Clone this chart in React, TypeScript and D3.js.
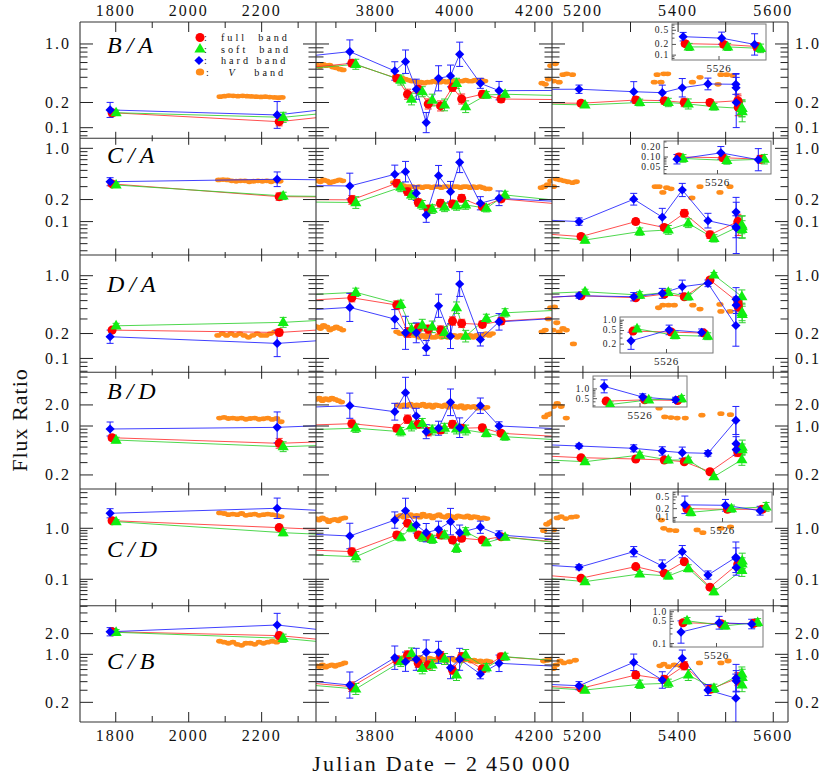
import * as d3 from 'd3';
import { useEffect, useRef } from 'react';

const W = 830;
const H = 775;

// X-ray epochs (JD - 2450000); the last three are the 5526 cluster shown in the insets
const epochs = [1790, 2248, 3740, 3853, 3880, 3907, 3932, 3963, 3993, 4016, 4068, 4115,
  5196, 5311, 5371, 5413, 5467, 5525.64, 5526.05, 5526.40];
const clusterIdx = [17, 18, 19];

// broken time axis
const colDomains = [[1702, 2349], [3650, 4243], [5135, 5631]];
const colMajor = [[1800, 2000, 2200], [3800, 4000, 4200], [5200, 5300, 5400, 5500, 5600]];
const colMinor = [[1900, 2100, 2300], [3700, 3900, 4100], []];
const colLabels = [[1800, 2000, 2200], [3800, 4000, 4200], [5200, 5400, 5600]];

const ratioNames = ['B/A', 'C/A', 'D/A', 'B/D', 'C/D', 'C/B'];
const rowDomains = [[0.0747, 1.83], [0.035, 1.37], [0.068, 1.78], [0.126, 5.85], [0.0303, 5.9], [0.1035, 5.1]];
const rowLabels = [[0.1, 0.2, 1.0], [0.1, 0.2, 1.0], [0.1, 0.2, 1.0], [0.2, 1.0, 2.0], [0.1, 1.0], [0.2, 1.0, 2.0]];

// B/A
const baFull = [0.151, 0.118, 0.588, 0.389, 0.251, 0.288, 0.192, 0.182, 0.304, 0.22, 0.251, 0.22, 0.196, 0.214, 0.21, 0.2, 0.2, 0.21, 0.2, 0.175];
const baFullErr = [0.04, 0.05, 0.04, 0.04, 0.06, 0.05, 0.06, 0.06, 0.05, 0.06, 0.04, 0.04, 0.03, 0.04, 0.04, 0.05, 0.03, 0.08, 0.08, 0.1];
const baSoft = [0.151, 0.133, 0.572, 0.371, 0.22, 0.269, 0.214, 0.187, 0.339, 0.178, 0.246, 0.251, 0.187, 0.2, 0.2, 0.192, 0.178, 0.17, 0.17, 0.155];
const baSoftErr = [0.03, 0.06, 0.06, 0.06, 0.07, 0.06, 0.07, 0.07, 0.06, 0.07, 0.04, 0.04, 0.03, 0.04, 0.05, 0.06, 0.04, 0.1, 0.1, 0.12];
const baHard = [0.163, 0.142, 0.81, 0.476, 0.614, 0.288, 0.115, 0.389, 0.415, 0.753, 0.339, 0.277, 0.288, 0.269, 0.262, 0.3, 0.333, 0.33, 0.3, 0.2];
const baHardErr = [0.09, 0.16, 0.14, 0.11, 0.14, 0.12, 0.12, 0.15, 0.13, 0.145, 0.06, 0.11, 0.05, 0.12, 0.09, 0.11, 0.07, 0.12, 0.17, 0.3];
const baV = [[2086, 0.235], [2098, 0.238], [2110, 0.242], [2122, 0.24], [2135, 0.238], [2148, 0.24], [2160, 0.238], [2172, 0.236], [2185, 0.235], [2198, 0.233], [2210, 0.235], [2222, 0.232], [2235, 0.23], [2246, 0.228], [2256, 0.23],
  [3652, 0.56], [3660, 0.54], [3668, 0.57], [3676, 0.55], [3684, 0.56], [3692, 0.53], [3700, 0.52], [3710, 0.5], [3718, 0.49],
  [3850, 0.41], [3858, 0.4], [3866, 0.39], [3874, 0.38], [3882, 0.37], [3890, 0.36], [3898, 0.36], [3906, 0.35], [3914, 0.35], [3922, 0.34], [3930, 0.35], [3938, 0.35], [3946, 0.36], [3954, 0.35], [3962, 0.35], [3970, 0.36], [3978, 0.35], [3986, 0.36], [3994, 0.36], [4002, 0.35], [4010, 0.36], [4018, 0.36], [4026, 0.37], [4034, 0.36], [4042, 0.36], [4050, 0.37], [4058, 0.36], [4066, 0.37], [4074, 0.36],
  [4218, 0.34], [4226, 0.33], [4234, 0.38], [4240, 0.55],
  [5138, 0.36], [5142, 0.58], [5150, 0.35], [5158, 0.43], [5166, 0.44], [5178, 0.43], [5350, 0.35], [5356, 0.43], [5364, 0.35], [5370, 0.44], [5378, 0.44], [5430, 0.35], [5446, 0.4], [5484, 0.33], [5490, 0.43], [5502, 0.43], [5515, 0.42]];

// C/A
const caFull = [0.327, 0.219, 0.198, 0.334, 0.256, 0.182, 0.148, 0.178, 0.174, 0.208, 0.16, 0.204, 0.0625, 0.1, 0.083, 0.13, 0.066, 0.1, 0.095, 0.085];
const caFullErr = [0.03, 0.05, 0.06, 0.05, 0.05, 0.05, 0.05, 0.05, 0.05, 0.05, 0.04, 0.04, 0.03, 0.04, 0.04, 0.05, 0.05, 0.1, 0.1, 0.12];
const caSoft = [0.316, 0.224, 0.182, 0.294, 0.231, 0.169, 0.148, 0.157, 0.164, 0.169, 0.152, 0.231, 0.056, 0.073, 0.077, 0.095, 0.059, 0.09, 0.078, 0.085];
const caSoftErr = [0.03, 0.05, 0.08, 0.06, 0.06, 0.06, 0.06, 0.06, 0.06, 0.06, 0.05, 0.05, 0.04, 0.05, 0.06, 0.06, 0.05, 0.12, 0.12, 0.15];
const caHard = [0.35, 0.378, 0.306, 0.442, 0.48, 0.244, 0.123, 0.423, 0.256, 0.644, 0.178, 0.208, 0.1, 0.202, 0.115, 0.27, 0.103, 0.085, 0.135, 0.082];
const caHardErr = [0.055, 0.1, 0.175, 0.125, 0.14, 0.1, 0.1, 0.14, 0.14, 0.14, 0.09, 0.1, 0.05, 0.08, 0.12, 0.09, 0.1, 0.15, 0.2, 0.35];
const caV = [[2082, 0.37], [2094, 0.375], [2106, 0.37], [2118, 0.36], [2130, 0.355], [2142, 0.36], [2154, 0.36], [2166, 0.35], [2178, 0.355], [2190, 0.36], [2202, 0.355], [2214, 0.36], [2226, 0.35], [2238, 0.36], [2250, 0.355],
  [3645, 0.37], [3653, 0.36], [3661, 0.35], [3669, 0.37], [3677, 0.36], [3685, 0.34], [3693, 0.35], [3701, 0.36], [3709, 0.37], [3717, 0.36],
  [3845, 0.34], [3853, 0.33], [3861, 0.32], [3869, 0.31], [3877, 0.3], [3885, 0.3], [3893, 0.3], [3901, 0.29], [3909, 0.3], [3917, 0.29], [3925, 0.3], [3933, 0.3], [3941, 0.29], [3949, 0.3], [3957, 0.3], [3965, 0.29], [3973, 0.3], [3981, 0.3], [3989, 0.29], [3997, 0.3], [4005, 0.3], [4013, 0.29], [4021, 0.3], [4029, 0.3], [4037, 0.29], [4045, 0.3], [4053, 0.29], [4061, 0.3], [4069, 0.29], [4077, 0.28], [4085, 0.28],
  [4216, 0.29], [4224, 0.3], [4232, 0.32], [4240, 0.36],
  [5138, 0.3], [5144, 0.38], [5152, 0.37], [5160, 0.36], [5168, 0.35], [5178, 0.34], [5186, 0.35], [5352, 0.3], [5360, 0.3], [5368, 0.25], [5376, 0.29], [5385, 0.28], [5429, 0.21], [5446, 0.3], [5488, 0.25], [5509, 0.3]];

// D/A
const daFull = [0.22, 0.206, 0.542, 0.442, 0.206, 0.235, 0.226, 0.22, 0.283, 0.265, 0.258, 0.283, 0.573, 0.542, 0.6, 0.557, 0.887, 0.48, 0.45, 0.42];
const daFullErr = [0.03, 0.04, 0.05, 0.05, 0.06, 0.05, 0.05, 0.05, 0.05, 0.05, 0.04, 0.04, 0.02, 0.03, 0.03, 0.03, 0.03, 0.06, 0.06, 0.06];
const daSoft = [0.248, 0.273, 0.63, 0.451, 0.226, 0.253, 0.241, 0.206, 0.41, 0.186, 0.305, 0.356, 0.64, 0.584, 0.63, 0.557, 1.02, 0.56, 0.36, 0.34];
const daSoftErr = [0.03, 0.06, 0.05, 0.05, 0.07, 0.07, 0.07, 0.07, 0.07, 0.07, 0.05, 0.05, 0.03, 0.04, 0.04, 0.04, 0.03, 0.08, 0.1, 0.1];
const daHard = [0.183, 0.152, 0.414, 0.299, 0.204, 0.204, 0.134, 0.433, 0.186, 0.794, 0.17, 0.277, 0.573, 0.557, 0.612, 0.736, 0.809, 0.25, 0.52, 0.44];
const daHardErr = [0.08, 0.16, 0.17, 0.115, 0.2, 0.12, 0.09, 0.14, 0.15, 0.15, 0.08, 0.1, 0.03, 0.05, 0.06, 0.08, 0.04, 0.25, 0.14, 0.1];
const daV = [[2080, 0.19], [2092, 0.2], [2104, 0.19], [2116, 0.2], [2128, 0.19], [2140, 0.2], [2152, 0.19], [2164, 0.18], [2176, 0.19], [2188, 0.2], [2200, 0.19], [2212, 0.19], [2224, 0.2], [2236, 0.21], [2250, 0.21],
  [3645, 0.25], [3653, 0.24], [3661, 0.23], [3669, 0.25], [3677, 0.24], [3685, 0.22], [3693, 0.23], [3701, 0.24], [3709, 0.23], [3717, 0.22],
  [3853, 0.21], [3861, 0.2], [3869, 0.2], [3877, 0.19], [3885, 0.2], [3893, 0.19], [3901, 0.19], [3909, 0.18], [3917, 0.19], [3925, 0.18], [3933, 0.19], [3941, 0.18], [3949, 0.18], [3957, 0.19], [3965, 0.18], [3973, 0.19], [3981, 0.18], [3989, 0.19], [3997, 0.19], [4005, 0.18], [4013, 0.19], [4021, 0.18], [4029, 0.19], [4037, 0.19], [4045, 0.18], [4053, 0.19], [4061, 0.18], [4069, 0.19], [4077, 0.2], [4085, 0.19], [4093, 0.2],
  [4218, 0.21], [4226, 0.22], [4234, 0.3], [4240, 0.41],
  [5137, 0.22], [5140, 0.42], [5145, 0.27], [5150, 0.21], [5158, 0.23], [5165, 0.22], [5180, 0.15], [5356, 0.18], [5359, 0.41], [5368, 0.44], [5380, 0.44], [5392, 0.44], [5431, 0.44], [5446, 0.395], [5488, 0.45], [5490, 0.37], [5509, 0.37]];

// B/D
const bdFull = [0.68, 0.566, 1.08, 0.93, 1.25, 1.06, 0.83, 0.877, 1.06, 0.93, 0.946, 0.787, 0.353, 0.338, 0.327, 0.309, 0.222, 0.42, 0.46, 0.44];
const bdFullErr = [0.04, 0.07, 0.05, 0.05, 0.06, 0.05, 0.06, 0.05, 0.05, 0.05, 0.04, 0.04, 0.02, 0.03, 0.03, 0.03, 0.03, 0.06, 0.06, 0.06];
const bdSoft = [0.63, 0.506, 0.93, 0.83, 1.0, 1.09, 0.877, 0.93, 0.906, 0.877, 0.787, 0.703, 0.309, 0.385, 0.327, 0.327, 0.189, 0.33, 0.46, 0.5];
const bdSoftErr = [0.04, 0.07, 0.06, 0.06, 0.07, 0.07, 0.07, 0.07, 0.07, 0.07, 0.05, 0.05, 0.03, 0.04, 0.04, 0.04, 0.03, 0.08, 0.08, 0.1];
const bdHard = [0.906, 0.957, 1.95, 1.6, 2.99, 1.39, 0.83, 0.93, 2.18, 0.946, 1.95, 1.0, 0.518, 0.48, 0.44, 0.416, 0.407, 1.2, 0.56, 0.46];
const bdHardErr = [0.1, 0.22, 0.18, 0.12, 0.22, 0.11, 0.1, 0.1, 0.19, 0.14, 0.11, 0.06, 0.03, 0.05, 0.06, 0.08, 0.04, 0.2, 0.1, 0.08];
const bdV = [[2085, 1.3], [2097, 1.33], [2109, 1.28], [2121, 1.3], [2133, 1.27], [2145, 1.3], [2157, 1.25], [2169, 1.28], [2181, 1.3], [2193, 1.25], [2205, 1.27], [2217, 1.3], [2229, 1.24], [2241, 1.28], [2253, 1.15],
  [3650, 2.4], [3658, 2.5], [3666, 2.3], [3674, 2.45], [3682, 2.35], [3690, 2.5], [3698, 2.4], [3706, 2.3], [3714, 2.2],
  [3855, 2.0], [3863, 1.9], [3871, 2.0], [3879, 1.95], [3887, 2.05], [3895, 1.9], [3903, 2.0], [3911, 1.95], [3919, 2.05], [3927, 1.9], [3935, 2.0], [3943, 1.85], [3951, 2.0], [3959, 1.95], [3967, 1.9], [3975, 2.0], [3983, 1.85], [3991, 1.95], [3999, 1.9], [4007, 1.85], [4015, 1.95], [4023, 1.8], [4031, 1.9], [4039, 1.85], [4047, 1.9], [4055, 1.8], [4063, 1.85], [4071, 1.8], [4079, 1.85],
  [4225, 1.35], [4233, 1.45], [4241, 1.5],
  [5138, 1.9], [5146, 2.1], [5154, 1.9], [5165, 1.3], [5360, 1.8], [5372, 1.35], [5385, 1.32], [5398, 1.3], [5415, 1.3], [5450, 1.43], [5490, 1.5], [5510, 1.45]];

// C/D
const cdFull = [1.41, 1.03, 0.348, 0.74, 1.25, 0.74, 0.667, 0.74, 0.59, 0.637, 0.59, 0.684, 0.105, 0.177, 0.131, 0.221, 0.07, 0.2, 0.19, 0.19];
const cdFullErr = [0.04, 0.05, 0.07, 0.06, 0.06, 0.06, 0.07, 0.06, 0.06, 0.06, 0.05, 0.05, 0.03, 0.04, 0.04, 0.05, 0.05, 0.1, 0.1, 0.1];
const cdSoft = [1.35, 0.82, 0.277, 0.667, 1.03, 0.667, 0.608, 0.74, 0.405, 0.857, 0.522, 0.667, 0.09, 0.127, 0.116, 0.164, 0.057, 0.15, 0.2, 0.23];
const cdSoftErr = [0.04, 0.06, 0.1, 0.07, 0.08, 0.08, 0.08, 0.08, 0.08, 0.08, 0.06, 0.05, 0.04, 0.05, 0.06, 0.07, 0.06, 0.12, 0.12, 0.15];
const cdHard = [1.97, 2.47, 0.706, 1.45, 2.21, 1.16, 0.82, 0.955, 1.35, 0.82, 1.05, 0.74, 0.172, 0.348, 0.182, 0.348, 0.121, 0.27, 0.26, 0.17];
const cdHardErr = [0.09, 0.2, 0.25, 0.16, 0.245, 0.16, 0.18, 0.16, 0.26, 0.15, 0.12, 0.08, 0.05, 0.1, 0.12, 0.12, 0.08, 0.3, 0.2, 0.15];
const cdV = [[2085, 2.0], [2097, 1.95], [2109, 1.85], [2121, 1.9], [2133, 1.85], [2145, 1.95], [2157, 1.8], [2169, 1.85], [2181, 1.9], [2193, 1.8], [2205, 1.85], [2217, 1.9], [2229, 1.85], [2241, 1.8], [2253, 1.7],
  [3650, 1.55], [3658, 1.45], [3666, 1.6], [3674, 1.5], [3682, 1.35], [3690, 1.45], [3698, 1.5], [3706, 1.4], [3714, 1.55], [3722, 1.6],
  [3855, 1.7], [3863, 1.8], [3871, 1.65], [3879, 1.75], [3887, 1.85], [3895, 1.7], [3903, 1.8], [3911, 1.65], [3919, 1.9], [3927, 1.7], [3935, 1.8], [3943, 1.6], [3951, 1.75], [3959, 1.85], [3967, 1.7], [3975, 1.65], [3983, 1.8], [3991, 1.7], [3999, 1.6], [4007, 1.75], [4015, 1.7], [4023, 1.65], [4031, 1.75], [4039, 1.6], [4047, 1.7], [4055, 1.65], [4063, 1.55], [4071, 1.6], [4079, 1.55],
  [4222, 0.9], [4230, 1.2], [4238, 1.3], [4244, 1.4],
  [5138, 0.93], [5146, 1.6], [5154, 1.7], [5164, 1.55], [5176, 1.65], [5186, 1.7], [5365, 1.45], [5370, 1.0], [5382, 0.92], [5395, 0.9], [5440, 0.93], [5452, 0.82], [5490, 1.0], [5510, 1.07]];

// C/B
const cbFull = [2.13, 1.87, 0.338, 0.826, 0.977, 0.74, 0.699, 0.955, 0.59, 0.923, 0.611, 0.923, 0.32, 0.5, 0.433, 0.682, 0.31, 0.45, 0.42, 0.43];
const cbFullErr = [0.04, 0.05, 0.07, 0.06, 0.06, 0.06, 0.06, 0.06, 0.06, 0.06, 0.05, 0.05, 0.03, 0.05, 0.05, 0.06, 0.05, 0.08, 0.08, 0.08];
const cbSoft = [2.09, 1.71, 0.313, 0.78, 1.03, 0.625, 0.699, 0.855, 0.5, 0.977, 0.638, 0.923, 0.302, 0.366, 0.379, 0.5, 0.32, 0.52, 0.36, 0.46];
const cbSoftErr = [0.04, 0.06, 0.08, 0.07, 0.08, 0.08, 0.08, 0.08, 0.08, 0.08, 0.06, 0.05, 0.04, 0.06, 0.06, 0.08, 0.06, 0.1, 0.1, 0.12];
const cbHard = [2.13, 2.67, 0.357, 0.893, 0.78, 0.846, 1.07, 1.07, 0.638, 0.846, 0.517, 0.74, 0.349, 0.765, 0.423, 0.875, 0.302, 0.23, 0.45, 0.41];
const cbHardErr = [0.06, 0.17, 0.19, 0.17, 0.14, 0.16, 0.18, 0.16, 0.16, 0.16, 0.07, 0.12, 0.06, 0.12, 0.12, 0.12, 0.08, 0.35, 0.2, 0.15];
const cbV = [[2085, 1.55], [2097, 1.5], [2109, 1.45], [2121, 1.5], [2133, 1.4], [2145, 1.35], [2157, 1.45], [2169, 1.45], [2181, 1.4], [2193, 1.5], [2205, 1.45], [2217, 1.5], [2229, 1.55], [2241, 1.5], [2253, 1.6],
  [3650, 0.68], [3658, 0.66], [3666, 0.7], [3674, 0.65], [3682, 0.68], [3690, 0.7], [3698, 0.67], [3706, 0.7], [3714, 0.72], [3722, 0.75],
  [3855, 0.8], [3863, 0.85], [3871, 0.9], [3879, 0.82], [3887, 0.88], [3895, 0.85], [3903, 0.8], [3911, 0.9], [3919, 0.85], [3927, 0.8], [3935, 0.88], [3943, 0.85], [3951, 0.82], [3959, 0.9], [3967, 0.85], [3975, 0.8], [3983, 0.85], [3991, 0.88], [3999, 0.82], [4007, 0.85], [4015, 0.8], [4023, 0.83], [4031, 0.85], [4039, 0.8], [4047, 0.82], [4055, 0.78], [4063, 0.8], [4071, 0.76], [4079, 0.8], [4087, 0.78],
  [4222, 0.8], [4232, 0.82], [4240, 0.85],
  [5138, 0.62], [5144, 0.7], [5152, 0.8], [5160, 0.75], [5172, 0.78], [5184, 0.82], [5362, 0.68], [5370, 0.72], [5380, 0.66], [5392, 0.7], [5405, 0.68], [5445, 0.75], [5490, 0.75], [5505, 0.8]];

const rows = [
  { full: baFull, fullErr: baFullErr, soft: baSoft, softErr: baSoftErr, hard: baHard, hardErr: baHardErr, vband: baV },
  { full: caFull, fullErr: caFullErr, soft: caSoft, softErr: caSoftErr, hard: caHard, hardErr: caHardErr, vband: caV },
  { full: daFull, fullErr: daFullErr, soft: daSoft, softErr: daSoftErr, hard: daHard, hardErr: daHardErr, vband: daV },
  { full: bdFull, fullErr: bdFullErr, soft: bdSoft, softErr: bdSoftErr, hard: bdHard, hardErr: bdHardErr, vband: bdV },
  { full: cdFull, fullErr: cdFullErr, soft: cdSoft, softErr: cdSoftErr, hard: cdHard, hardErr: cdHardErr, vband: cdV },
  { full: cbFull, fullErr: cbFullErr, soft: cbSoft, softErr: cbSoftErr, hard: cbHard, hardErr: cbHardErr, vband: cbV },
];

// inset y ranges and labelled ticks
const insetDomains = [[0.073, 0.75], [0.029, 0.32], [0.11, 1.24], [0.277, 2.5], [0.07, 0.74], [0.078, 1.13]];
const insetTicks = [[0.1, 0.2, 0.5], [0.05, 0.1, 0.2], [0.2, 0.5, 1.0], [0.5, 1.0], [0.1, 0.2, 0.5], [0.1, 0.5, 1.0]];

// layout
const colPx = [[80, 316], [316, 552], [552, 788]];
const rowPx = [[22, 138.3], [138.3, 255], [255, 372.3], [372.3, 489], [489, 605.7], [605.7, 722]];
const insetBox = [
  { x: [672, 766], y: [24, 60], fmt: '.1f' },
  { x: [664, 771], y: [141, 174], fmt: '.2f' },
  { x: [620, 713], y: [317, 353], fmt: '.1f' },
  { x: [593, 687], y: [376, 407], fmt: '.1f' },
  { x: [673, 772], y: [492, 522], fmt: '.1f' },
  { x: [670, 763], y: [610, 647], fmt: '.1f' },
];
const labelBase = [53, 163, 292, 399, 557, 669];

const FONT = '"Liberation Serif", "Times New Roman", serif';

const bands = [
  { key: 'full', fill: '#ff0000', line: '#ff3030', dx: 0 },
  { key: 'soft', fill: '#10ee10', line: '#30d030', dx: 4 },
  { key: 'hard', fill: '#0000ff', line: '#2020ff', dx: -2 },
];

const markerPath = (key: string) => {
  if (key === 'soft') return 'M0,-6L5.6,3.6L-5.6,3.6Z';
  if (key === 'hard') return 'M0,-4.6L4.6,0L0,4.6L-4.6,0Z';
  return d3.symbol(d3.symbolCircle, 64)();
};

const App = () => {
  const ref = useRef<SVGSVGElement>(null);

  useEffect(() => {
    const svg = d3.select(ref.current);
    svg.selectAll('*').remove();
    const defs = svg.append('defs');
    svg.append('rect').attr('width', W).attr('height', H).attr('fill', '#fff');

    const drawSeries = (g: any, row: any, x: any, y: any, idx: number[], withV: boolean) => {
      if (withV) {
        g.selectAll('ellipse.v')
          .data(row.vband)
          .enter()
          .append('ellipse')
          .attr('cx', (d: number[]) => x(d[0]))
          .attr('cy', (d: number[]) => y(d[1]))
          .attr('rx', 3.6)
          .attr('ry', 2.4)
          .attr('fill', '#ff8c1a');
      }
      bands.forEach(b => {
        const vals = row[b.key];
        const line = d3.line<number>()
          .x(i => x(epochs[i]) + b.dx)
          .y(i => y(vals[i]));
        g.append('path').datum(idx).attr('d', line)
          .attr('fill', 'none').attr('stroke', b.line).attr('stroke-width', 1).attr('opacity', 0.85);
      });
      bands.forEach(b => {
        const vals = row[b.key];
        const errs = row[b.key + 'Err'];
        idx.forEach(i => {
          const cx = x(epochs[i]) + b.dx;
          const lo = y(vals[i] / Math.pow(10, errs[i]));
          const hi = y(vals[i] * Math.pow(10, errs[i]));
          const eg = g.append('g').attr('stroke', b.line).attr('stroke-width', 1);
          eg.append('line').attr('x1', cx).attr('x2', cx).attr('y1', lo).attr('y2', hi);
          eg.append('line').attr('x1', cx - 3.5).attr('x2', cx + 3.5).attr('y1', lo).attr('y2', lo);
          eg.append('line').attr('x1', cx - 3.5).attr('x2', cx + 3.5).attr('y1', hi).attr('y2', hi);
        });
      });
      bands.forEach(b => {
        const vals = row[b.key];
        g.selectAll(null)
          .data(idx)
          .enter()
          .append('path')
          .attr('d', markerPath(b.key))
          .attr('transform', (i: number) => `translate(${x(epochs[i]) + b.dx},${y(vals[i])})`)
          .attr('fill', b.fill);
      });
    };

    const allIdx = epochs.map((_, i) => i);
    const xs = colDomains.map((d, ci) => d3.scaleLinear().domain(d).range(colPx[ci]));

    rows.forEach((row, ri) => {
      const [top, bottom] = rowPx[ri];
      const y = d3.scaleLog().domain(rowDomains[ri]).range([bottom, top]);

      xs.forEach((x, ci) => {
        const id = `cell-${ri}-${ci}`;
        defs.append('clipPath').attr('id', id).append('rect')
          .attr('x', colPx[ci][0]).attr('y', top)
          .attr('width', colPx[ci][1] - colPx[ci][0]).attr('height', bottom - top);
        const g = svg.append('g').attr('clip-path', `url(#${id})`);
        drawSeries(g, row, x, y, allIdx, true);
      });

      // y ticks on every vertical frame line
      const labelled = rowLabels[ri];
      const ticks = y.ticks(20);
      [80, 316, 552, 788].forEach(xv => {
        ticks.forEach(t => {
          const major = labelled.some(l => Math.abs(l - t) < 1e-9);
          const len = major ? 13 : 7.5;
          let x1 = xv, x2 = xv + len;
          if (xv === 788) { x1 = xv - len; x2 = xv; }
          if (xv === 316 || xv === 552) { x1 = xv - len; x2 = xv + len; }
          svg.append('line').attr('x1', x1).attr('x2', x2).attr('y1', y(t)).attr('y2', y(t))
            .attr('stroke', '#222').attr('stroke-width', 1);
        });
      });
      labelled.forEach(t => {
        svg.append('text').attr('x', 71).attr('y', y(t) + 5.5)
          .attr('text-anchor', 'end').attr('font-family', FONT).attr('font-size', 16)
          .attr('letter-spacing', 2).attr('fill', '#111').text(d3.format('.1f')(t));
        svg.append('text').attr('x', 795).attr('y', y(t) + 5.5)
          .attr('font-family', FONT).attr('font-size', 16)
          .attr('letter-spacing', 2).attr('fill', '#111').text(d3.format('.1f')(t));
      });

      // ratio name
      svg.append('text').attr('x', 107).attr('y', labelBase[ri])
        .attr('font-family', FONT).attr('font-style', 'italic').attr('font-size', 24)
        .attr('letter-spacing', 5).attr('fill', '#000').text(ratioNames[ri]);

      // inset around JD 5526
      const box = insetBox[ri];
      const ix = d3.scaleLinear().domain([5525.5, 5526.5]).range(box.x);
      const iy = d3.scaleLog().domain(insetDomains[ri]).range([box.y[1], box.y[0]]);
      const ig = svg.append('g');
      ig.append('rect').attr('x', box.x[0]).attr('y', box.y[0])
        .attr('width', box.x[1] - box.x[0]).attr('height', box.y[1] - box.y[0])
        .attr('fill', '#fff').attr('stroke', '#777').attr('stroke-width', 1);
      const iid = `inset-${ri}`;
      defs.append('clipPath').attr('id', iid).append('rect')
        .attr('x', box.x[0]).attr('y', box.y[0])
        .attr('width', box.x[1] - box.x[0]).attr('height', box.y[1] - box.y[0]);
      iy.ticks(15).forEach(t => {
        const major = insetTicks[ri].some(l => Math.abs(l - t) < 1e-9);
        ig.append('line').attr('x1', box.x[0]).attr('x2', box.x[0] + (major ? 4 : 2.5))
          .attr('y1', iy(t)).attr('y2', iy(t)).attr('stroke', '#555');
      });
      insetTicks[ri].forEach(t => {
        ig.append('text').attr('x', box.x[0] - 3).attr('y', iy(t) + 3)
          .attr('text-anchor', 'end').attr('font-family', FONT).attr('font-size', 9.5)
          .attr('letter-spacing', 0.8).attr('fill', '#222').text(d3.format(box.fmt)(t));
      });
      ig.append('line').attr('x1', ix(5526)).attr('x2', ix(5526))
        .attr('y1', box.y[1]).attr('y2', box.y[1] - 4).attr('stroke', '#555');
      ig.append('text').attr('x', ix(5526)).attr('y', box.y[1] + 12)
        .attr('text-anchor', 'middle').attr('font-family', FONT).attr('font-size', 11)
        .attr('letter-spacing', 0.8).attr('fill', '#222').text('5526');
      const icg = ig.append('g').attr('clip-path', `url(#${iid})`);
      drawSeries(icg, row, ix, iy, clusterIdx, false);
    });

    // frame
    const frame = svg.append('g').attr('stroke', '#333').attr('stroke-width', 1.1);
    rowPx.map(r => r[0]).concat([722]).forEach(yv => {
      frame.append('line').attr('x1', 80).attr('x2', 788).attr('y1', yv).attr('y2', yv);
    });
    [80, 316, 552, 788].forEach(xv => {
      frame.append('line').attr('x1', xv).attr('x2', xv).attr('y1', 22).attr('y2', 722);
    });

    // x ticks on every horizontal frame line
    const bounds = rowPx.map(r => r[0]).concat([722]);
    xs.forEach((x, ci) => {
      const put = (t: number, major: boolean) => {
        bounds.forEach((yv, bi) => {
          let y1, y2;
          if (bi === 0) { y1 = yv; y2 = yv + (major ? 10 : 6); }
          else if (bi === bounds.length - 1) { y1 = yv - (major ? 10 : 6); y2 = yv; }
          else { y1 = yv - (major ? 6.5 : 3); y2 = yv + (major ? 6.5 : 3); }
          svg.append('line').attr('x1', x(t)).attr('x2', x(t)).attr('y1', y1).attr('y2', y2)
            .attr('stroke', '#222').attr('stroke-width', 1);
        });
      };
      colMajor[ci].forEach(t => put(t, true));
      colMinor[ci].forEach(t => { if (t < colDomains[ci][1]) put(t, false); });
      colLabels[ci].forEach(t => {
        [16, 741].forEach(yy => {
          svg.append('text').attr('x', x(t)).attr('y', yy).attr('text-anchor', 'middle')
            .attr('font-family', FONT).attr('font-size', 16).attr('letter-spacing', 2)
            .attr('fill', '#111').text(String(t));
        });
      });
    });

    // legend
    const legend = svg.append('g').attr('font-family', FONT).attr('font-size', 10.2).attr('fill', '#111');
    const legY = [37.5, 49, 60.5, 72];
    legend.append('path').attr('d', markerPath('full')).attr('transform', `translate(200,${legY[0]})`).attr('fill', '#ff0000');
    legend.append('path').attr('d', markerPath('soft')).attr('transform', `translate(200,${legY[1]})`).attr('fill', '#10ee10');
    legend.append('path').attr('d', markerPath('hard')).attr('transform', `translate(199,${legY[2]})`).attr('fill', '#0000ff');
    legend.append('ellipse').attr('cx', 200).attr('cy', legY[3]).attr('rx', 4.2).attr('ry', 3.6).attr('fill', '#ff8c1a');
    [':  full  band', ':  soft  band', ':  hard band'].forEach((t, i) => {
      legend.append('text').attr('x', 204).attr('y', legY[i] + 3.6).attr('letter-spacing', 3)
        .style('white-space', 'pre').text(t);
    });
    const vt = legend.append('text').attr('x', 206).attr('y', legY[3] + 3.6).attr('letter-spacing', 3)
      .style('white-space', 'pre');
    vt.append('tspan').text(':   ');
    vt.append('tspan').attr('font-style', 'italic').text('V');
    vt.append('tspan').text('   band');

    // axis titles
    svg.append('text').attr('transform', 'translate(27,420) rotate(-90)')
      .attr('text-anchor', 'middle').attr('font-family', FONT).attr('font-size', 22)
      .attr('letter-spacing', 1).attr('fill', '#111').text('Flux Ratio');
    svg.append('text').attr('x', 442).attr('y', 771)
      .attr('text-anchor', 'middle').attr('font-family', FONT).attr('font-size', 22)
      .attr('letter-spacing', 2.2).attr('fill', '#111').style('white-space', 'pre')
      .text('Julian Date \u2212 2\u2009450\u2009000');
  }, []);

  return (
    <svg ref={ref} width={W} height={H}
      style={{ position: 'absolute', left: 0, top: 0, display: 'block', background: '#fff' }} />
  );
};

export default App;
